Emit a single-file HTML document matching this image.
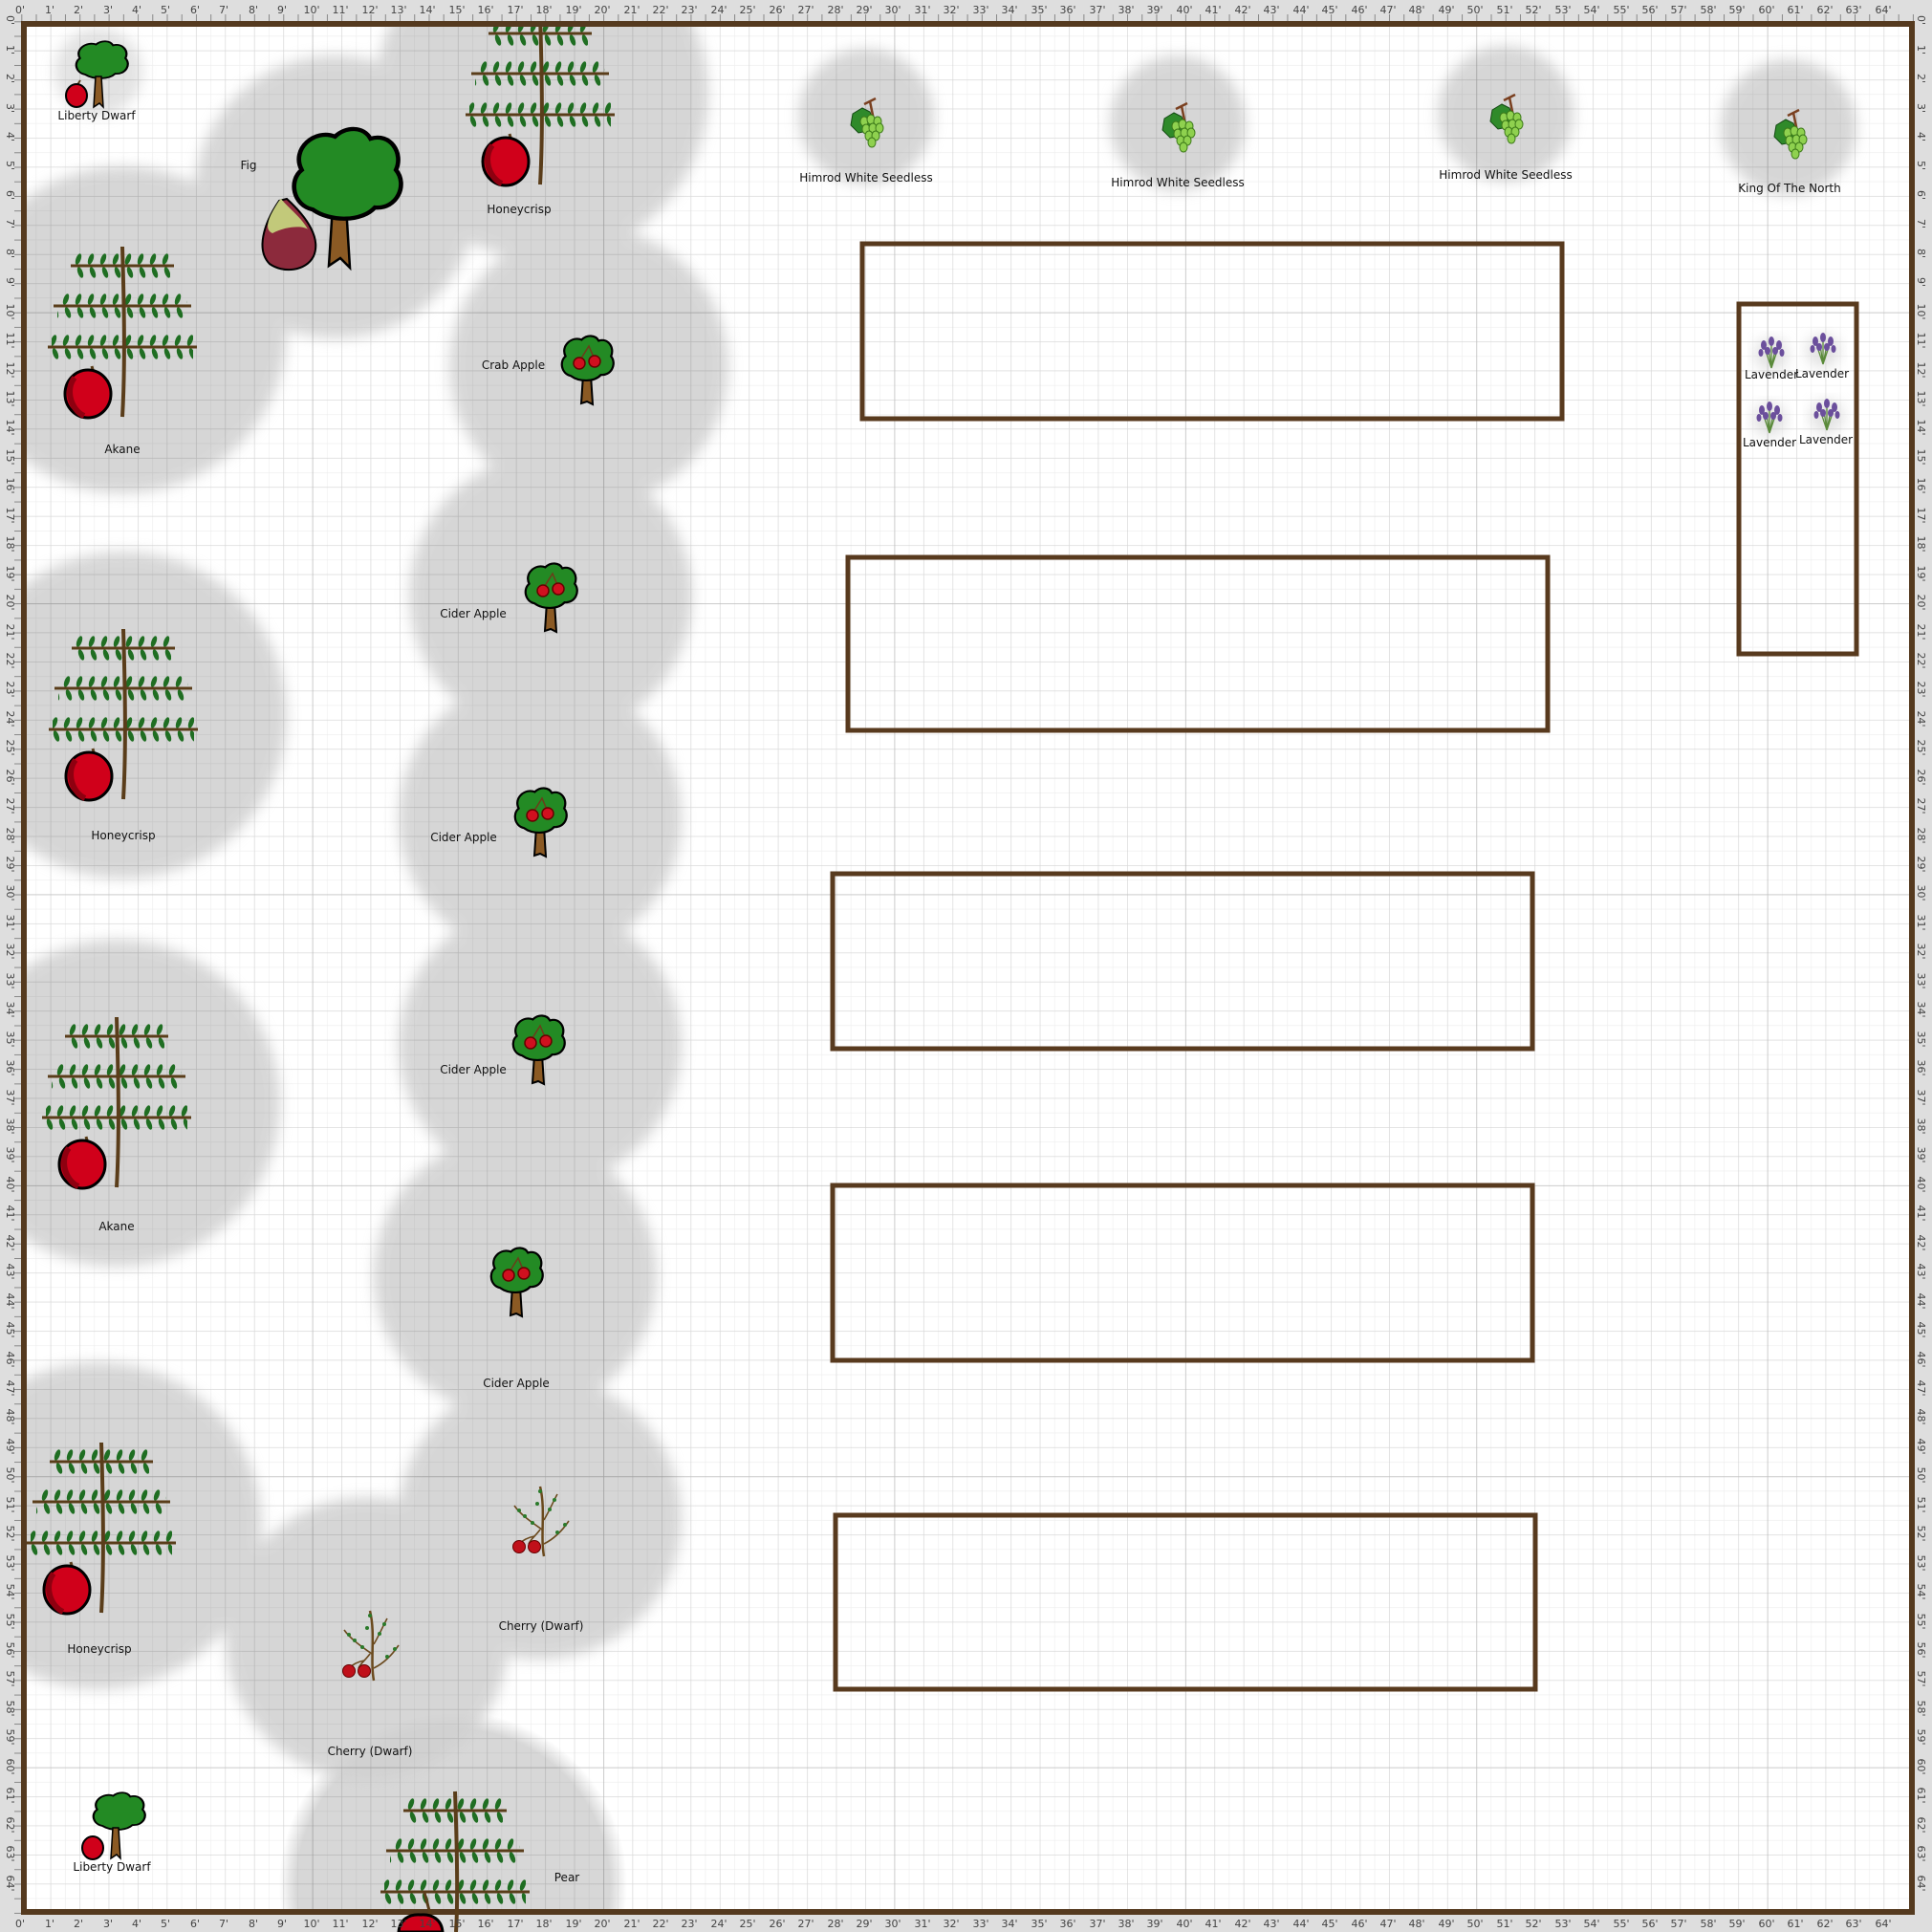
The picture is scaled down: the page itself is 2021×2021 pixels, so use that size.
<!DOCTYPE html>
<html><head><meta charset="utf-8"><style>
html,body{margin:0;padding:0;background:#fff;width:2021px;height:2021px;overflow:hidden}
svg{display:block}
text{font-family:"DejaVu Sans","Liberation Sans",sans-serif}
</style></head><body>
<svg width="2021" height="2021" viewBox="0 0 2021 2021" xmlns="http://www.w3.org/2000/svg" overflow="hidden">
<defs>
<pattern id="gMinor" x="22.3" y="22.3" width="15.22" height="15.22" patternUnits="userSpaceOnUse">
<path d="M0,0V15.22M0,0H15.22" stroke="rgba(0,0,0,0.07)" stroke-width="1.2" fill="none"/></pattern>
<pattern id="gFoot" x="22.3" y="22.3" width="30.44" height="30.44" patternUnits="userSpaceOnUse">
<path d="M0,0V30.44M0,0H30.44" stroke="rgba(0,0,0,0.09)" stroke-width="1.5" fill="none"/></pattern>
<pattern id="gTen" x="22.3" y="22.3" width="304.4" height="304.4" patternUnits="userSpaceOnUse">
<path d="M0,0V304.4M0,0H304.4" stroke="rgba(0,0,0,0.1)" stroke-width="2" fill="none"/></pattern>
<pattern id="tickH" x="22.3" y="0" width="15.22" height="30" patternUnits="userSpaceOnUse">
<path d="M0.5,15V22" stroke="#888" stroke-width="1"/></pattern>
<pattern id="tickV" x="0" y="22.3" width="30" height="15.22" patternUnits="userSpaceOnUse">
<path d="M15,0.5H22" stroke="#888" stroke-width="1"/></pattern>
<pattern id="leaves" x="0" y="-13" width="13" height="26" patternUnits="userSpaceOnUse">
<ellipse cx="6" cy="6" rx="2.6" ry="6" fill="#1f6e22" transform="rotate(20 6 6)"/>
<ellipse cx="8" cy="20" rx="2.6" ry="6" fill="#1f6e22" transform="rotate(-20 8 20)"/>
</pattern>
<radialGradient id="pearShade" gradientUnits="userSpaceOnUse" cx="474" cy="1972" r="182">
<stop offset="0" stop-color="#d0d0d0" stop-opacity="0.85"/>
<stop offset="0.9" stop-color="#d0d0d0" stop-opacity="0.85"/>
<stop offset="1" stop-color="#d0d0d0" stop-opacity="0"/>
</radialGradient>
<filter id="blur" x="-20%" y="-20%" width="140%" height="140%"><feGaussianBlur stdDeviation="7"/></filter>
<g id="crown"><path d="M20,80 C2,76 -2,52 10,42 C0,22 22,2 40,10 C50,0 66,0 72,12 C90,6 102,26 95,42 C106,56 96,80 76,78 C64,92 36,92 20,80 Z" fill="#238a24" stroke="#000" stroke-width="4"/></g>
<g id="espTop">
<g transform="translate(0,14)"><rect x="-50" y="-13" width="100" height="26" fill="url(#leaves)"/></g>
<g transform="translate(0,56)"><rect x="-68" y="-13" width="136" height="26" fill="url(#leaves)"/></g>
<g transform="translate(0,99)"><rect x="-74" y="-13" width="148" height="26" fill="url(#leaves)"/></g>
<g stroke="#5a3d1a" stroke-width="3"><path d="M-54,14H54M-72,56H72M-78,99H78"/></g>
</g>
<g id="espalier">
<use href="#espTop"/>
<path d="M0,-6 C2,60 3,120 0,172" stroke="#5a3d1a" stroke-width="4" fill="none"/>
<g transform="translate(-36,143)">
<path d="M4,-24 L10,-2" stroke="#5a3d1a" stroke-width="3"/>
<ellipse cx="0" cy="5" rx="24" ry="25" fill="#d0001a" stroke="#000" stroke-width="3"/>
<path d="M-14,-12 C-24,0 -18,22 -4,28" stroke="#8e0010" stroke-width="6" fill="none"/>
</g>
</g>
<g id="cider">
<path d="M-4,18 L-6,48 L0,46 L6,49 L4,18Z" fill="#8b5a24" stroke="#000" stroke-width="2"/>
<g transform="translate(-28,-24) scale(0.56,0.54)"><use href="#crown"/></g>
<path d="M-8,4 L2,-12 L8,2" stroke="#6b3d1a" stroke-width="1.5" fill="none"/>
<circle cx="-8" cy="6" r="6" fill="#d0101f" stroke="#600" stroke-width="1.5"/>
<circle cx="8" cy="4" r="6" fill="#d0101f" stroke="#600" stroke-width="1.5"/>
</g>
<g id="cherry">
<path d="M34,73 C30,50 36,25 30,0" stroke="#6b4a1e" stroke-width="2.5" fill="none"/>
<path d="M32,45 C22,38 10,30 3,20 M34,35 C40,25 44,15 48,8 M34,60 C44,55 52,48 60,36 M30,45 C25,52 20,55 18,60 M24,52 C14,54 10,58 8,60" stroke="#6b4a1e" stroke-width="1.6" fill="none"/>
<g fill="#2a7a2a"><circle cx="8" cy="25" r="2"/><circle cx="14" cy="31" r="2"/><circle cx="22" cy="38" r="2"/><circle cx="40" cy="24" r="2"/><circle cx="45" cy="14" r="2"/><circle cx="48" cy="48" r="2"/><circle cx="56" cy="40" r="2"/><circle cx="30" cy="5" r="2"/><circle cx="27" cy="18" r="2"/></g>
<circle cx="8" cy="63" r="6.5" fill="#c0101a" stroke="#600" stroke-width="1"/>
<circle cx="24" cy="63" r="6.5" fill="#c0101a" stroke="#600" stroke-width="1"/>
</g>
<g id="grape">
<path d="M-2,-16 L10,-22 M4,-19 L10,10" stroke="#7a4020" stroke-width="2.5"/>
<path d="M-14,-6 L-4,-12 L4,-8 L8,2 L2,12 L-8,14 L-16,6Z" fill="#2f8a2a" stroke="#144a14" stroke-width="1"/>
<g fill="#8fd14f" stroke="#3d7a1a" stroke-width="1">
<ellipse cx="-2" cy="2" rx="4" ry="5"/><ellipse cx="5" cy="0" rx="4" ry="5"/><ellipse cx="12" cy="2" rx="4" ry="5"/>
<ellipse cx="0" cy="10" rx="4" ry="5"/><ellipse cx="7" cy="9" rx="4" ry="5"/><ellipse cx="14" cy="9" rx="4" ry="5"/>
<ellipse cx="3" cy="17" rx="4" ry="5"/><ellipse cx="10" cy="17" rx="4" ry="5"/><ellipse cx="6" cy="24" rx="4" ry="5"/></g>
</g>
<g id="lav">
<circle cx="0" cy="4" r="18" fill="#c8c8c8" opacity="0.5" filter="url(#blur)"/>
<path d="M0,18 L-8,-6 M0,18 L0,-10 M0,18 L8,-6 M0,18 L-3,-2 M0,18 L4,-2" stroke="#5a8a3a" stroke-width="1.3"/>
<g fill="#6b4f9c"><ellipse cx="-8" cy="-6" rx="3" ry="5"/><ellipse cx="0" cy="-10" rx="3" ry="5"/><ellipse cx="8" cy="-6" rx="3" ry="5"/><ellipse cx="-4" cy="0" rx="3" ry="4"/><ellipse cx="4" cy="0" rx="3" ry="4"/><ellipse cx="-11" cy="2" rx="2.5" ry="4"/><ellipse cx="11" cy="2" rx="2.5" ry="4"/></g>
</g>
<clipPath id="pageclip"><rect width="2021" height="2021"/></clipPath>
</defs>
<g clip-path="url(#pageclip)">
<rect width="2021" height="2021" fill="#fff"/>

<rect x="292" y="1790" width="364" height="231" fill="url(#pearShade)"/>
<g fill="#d0d0d0" opacity="0.85" filter="url(#blur)">
<circle cx="103" cy="75" r="46" opacity="0.7"/>
<circle cx="351" cy="206" r="148"/>
<circle cx="567" cy="97" r="174"/>
<circle cx="129" cy="345" r="171"/>
<circle cx="616" cy="383" r="146"/>
<circle cx="576" cy="623" r="148"/>
<circle cx="129" cy="748" r="171"/>
<circle cx="565" cy="855" r="148"/>
<circle cx="565" cy="1093" r="148"/>
<circle cx="122" cy="1154" r="171"/>
<circle cx="539" cy="1334" r="148"/>
<circle cx="103" cy="1596" r="171"/>
<circle cx="565" cy="1588" r="148"/>
<circle cx="384" cy="1714" r="148"/>
<circle cx="906" cy="122" r="71"/>
<circle cx="1232" cy="129" r="71"/>
<circle cx="1575" cy="119" r="71"/>
<circle cx="1871" cy="133" r="71"/>
</g>

<rect x="22" y="22" width="1980" height="1980" fill="url(#gMinor)"/>
<rect x="22" y="22" width="1980" height="1980" fill="url(#gFoot)"/>
<rect x="22" y="22" width="1980" height="1980" fill="url(#gTen)"/>

<g fill="none" stroke="#583a1e" stroke-width="5">
<rect x="902" y="255" width="732" height="183"/>
<rect x="887" y="583" width="732" height="181"/>
<rect x="871" y="914" width="732" height="183"/>
<rect x="871" y="1240" width="732" height="183"/>
<rect x="874" y="1585" width="732" height="182"/>
<rect x="1819" y="318" width="123" height="366"/>
</g>

<g transform="translate(78,42) scale(0.56,0.45)"><use href="#crown"/></g>
<path d="M100,80 L98,112 L104,108 L108,112 L106,80Z" fill="#8b5a24" stroke="#000" stroke-width="1.5"/>
<path d="M80,90 L84,84" stroke="#5a3d1a" stroke-width="2"/>
<ellipse cx="80" cy="100" rx="11" ry="12" fill="#d0001a" stroke="#000" stroke-width="2"/>

<path d="M348,215 L344,278 L356,270 L366,280 L362,215Z" fill="#8b5a24" stroke="#000" stroke-width="2.5"/>
<g transform="translate(304,132) scale(1.16,1.09)"><use href="#crown"/></g>
<path d="M292,210 C275,235 268,262 282,276 C296,286 320,284 328,268 C336,250 322,228 300,208Z" fill="#8c2a3c" stroke="#000" stroke-width="2"/>
<path d="M292,210 C280,228 276,240 285,244 C300,236 318,236 322,240 C316,228 302,218 294,208Z" fill="#c2c97a"/>

<use href="#espalier" transform="translate(565,21)"/>
<use href="#espalier" transform="translate(128,264)"/>
<use href="#espalier" transform="translate(129,664)"/>
<use href="#espalier" transform="translate(122,1070)"/>
<use href="#espalier" transform="translate(106,1515)"/>

<use href="#cider" transform="translate(614,374)"/>
<use href="#cider" transform="translate(576,612)"/>
<use href="#cider" transform="translate(565,847)"/>
<use href="#cider" transform="translate(563,1085)"/>
<use href="#cider" transform="translate(540,1328)"/>

<use href="#cherry" transform="translate(535,1555)"/>
<use href="#cherry" transform="translate(357,1685)"/>

<g transform="translate(96,1874) scale(0.56,0.45)"><use href="#crown"/></g>
<path d="M118,1912 L116,1944 L122,1940 L126,1944 L124,1912Z" fill="#8b5a24" stroke="#000" stroke-width="1.5"/>
<ellipse cx="97" cy="1933" rx="11" ry="12" fill="#d0001a" stroke="#000" stroke-width="2"/>

<use href="#grape" transform="translate(906,125)"/>
<use href="#grape" transform="translate(1232,130)"/>
<use href="#grape" transform="translate(1575,121)"/>
<use href="#grape" transform="translate(1872,137)"/>

<use href="#lav" transform="translate(1853,367)"/>
<use href="#lav" transform="translate(1907,363)"/>
<use href="#lav" transform="translate(1851,435)"/>
<use href="#lav" transform="translate(1911,432)"/>

<g font-size="12" fill="#111" text-anchor="middle">
<text x="101" y="125">Liberty Dwarf</text>
<text x="260" y="177">Fig</text>
<text x="543" y="223">Honeycrisp</text>
<text x="128" y="474">Akane</text>
<text x="537" y="386">Crab Apple</text>
<text x="495" y="646">Cider Apple</text>
<text x="129" y="878">Honeycrisp</text>
<text x="485" y="880">Cider Apple</text>
<text x="495" y="1123">Cider Apple</text>
<text x="122" y="1287">Akane</text>
<text x="540" y="1451">Cider Apple</text>
<text x="104" y="1729">Honeycrisp</text>
<text x="566" y="1705">Cherry (Dwarf)</text>
<text x="387" y="1836">Cherry (Dwarf)</text>
<text x="117" y="1957">Liberty Dwarf</text>
<text x="593" y="1968">Pear</text>
<text x="906" y="190">Himrod White Seedless</text>
<text x="1232" y="195">Himrod White Seedless</text>
<text x="1575" y="187">Himrod White Seedless</text>
<text x="1872" y="201">King Of The North</text>
<text x="1853" y="396">Lavender</text>
<text x="1906" y="395">Lavender</text>
<text x="1851" y="467">Lavender</text>
<text x="1910" y="464">Lavender</text>
</g>

<g fill="#dedede">
<rect x="0" y="0" width="2021" height="22"/>
<rect x="0" y="0" width="22" height="2021"/>
<rect x="2003" y="0" width="18" height="2021"/>
<rect x="0" y="2003" width="2021" height="18"/>
</g>
<rect x="22" y="0" width="1980" height="22" fill="url(#tickH)"/>
<rect x="0" y="22" width="22" height="1980" fill="url(#tickV)"/>
<rect x="25" y="25" width="1975" height="1975" fill="none" stroke="#553a1f" stroke-width="6"/>

<!-- pear (trimmed at page edge) -->
<use href="#espTop" transform="translate(476,1880)"/>
<path d="M476,1874 C478,1930 479,1990 477,2021" stroke="#5a3d1a" stroke-width="4" fill="none"/>
<path d="M444,1980 L450,2002" stroke="#5a3d1a" stroke-width="3"/>
<path d="M417,2021 C418,2008 428,2002 440,2003 C452,2002 462,2008 463,2021 Z" fill="#d0001a" stroke="#000" stroke-width="3"/>

<g id="rl" font-size="11" fill="#444" text-anchor="middle">
<text x="21" y="14">0'</text><text x="52" y="14">1'</text><text x="82" y="14">2'</text><text x="113" y="14">3'</text><text x="143" y="14">4'</text><text x="173" y="14">5'</text><text x="204" y="14">6'</text><text x="234" y="14">7'</text><text x="265" y="14">8'</text><text x="295" y="14">9'</text>
<text x="326" y="14">10'</text><text x="356" y="14">11'</text><text x="387" y="14">12'</text><text x="417" y="14">13'</text><text x="447" y="14">14'</text><text x="478" y="14">15'</text><text x="508" y="14">16'</text><text x="539" y="14">17'</text><text x="569" y="14">18'</text><text x="600" y="14">19'</text>
<text x="630" y="14">20'</text><text x="661" y="14">21'</text><text x="691" y="14">22'</text><text x="721" y="14">23'</text><text x="752" y="14">24'</text><text x="782" y="14">25'</text><text x="813" y="14">26'</text><text x="843" y="14">27'</text><text x="874" y="14">28'</text><text x="904" y="14">29'</text>
<text x="934" y="14">30'</text><text x="965" y="14">31'</text><text x="995" y="14">32'</text><text x="1026" y="14">33'</text><text x="1056" y="14">34'</text><text x="1087" y="14">35'</text><text x="1117" y="14">36'</text><text x="1148" y="14">37'</text><text x="1178" y="14">38'</text><text x="1208" y="14">39'</text>
<text x="1239" y="14">40'</text><text x="1269" y="14">41'</text><text x="1300" y="14">42'</text><text x="1330" y="14">43'</text><text x="1361" y="14">44'</text><text x="1391" y="14">45'</text><text x="1422" y="14">46'</text><text x="1452" y="14">47'</text><text x="1482" y="14">48'</text><text x="1513" y="14">49'</text>
<text x="1543" y="14">50'</text><text x="1574" y="14">51'</text><text x="1604" y="14">52'</text><text x="1635" y="14">53'</text><text x="1665" y="14">54'</text><text x="1696" y="14">55'</text><text x="1726" y="14">56'</text><text x="1756" y="14">57'</text><text x="1787" y="14">58'</text><text x="1817" y="14">59'</text>
<text x="1848" y="14">60'</text><text x="1878" y="14">61'</text><text x="1909" y="14">62'</text><text x="1939" y="14">63'</text><text x="1970" y="14">64'</text>
</g>
<use href="#rl" transform="translate(0,2002)"/>
<use href="#rl" transform="translate(21,0) rotate(90)"/>
<use href="#rl" transform="translate(2020,0) rotate(90)"/>
</g>
</svg>
</body></html>
